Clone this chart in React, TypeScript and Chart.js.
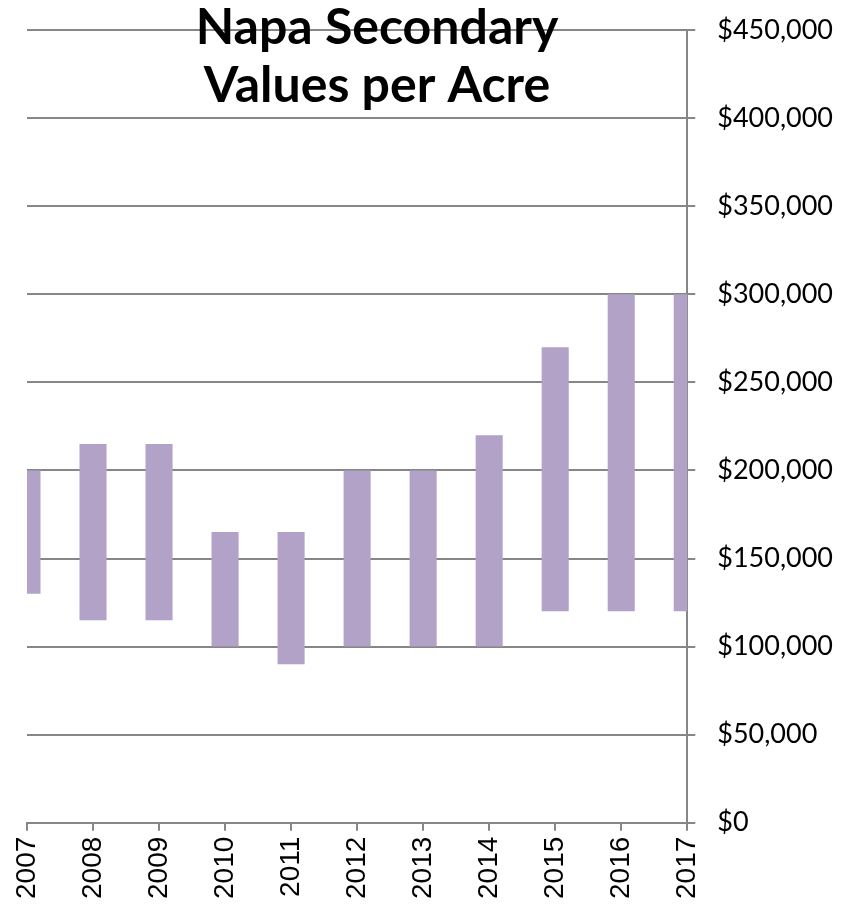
import React, { useEffect, useRef } from "react";
import { Chart, registerables } from "chart.js";

Chart.register(...registerables);

const years = ["2007", "2008", "2009", "2010", "2011", "2012", "2013", "2014", "2015", "2016", "2017"];
const lowValues = [130000, 115000, 115000, 100000, 90000, 100000, 100000, 100000, 120000, 120000, 120000];
const highValues = [200000, 215000, 215000, 165000, 165000, 200000, 200000, 220000, 270000, 300000, 300000];
const titleLines = ["Napa Secondary", "Values per Acre"];

const GRID = "#868686";

const titlePlugin = {
  id: "overlayTitle",
  afterDraw(chart: any) {
    const ctx = chart.ctx;
    const cx = 377;
    ctx.save();
    ctx.font = "bold 50px Lato";
    ctx.textAlign = "center";
    ctx.textBaseline = "alphabetic";
    ctx.fillStyle = "#000000";
    // canvas is shifted 8px above the page top
    ctx.fillText(titleLines[0], cx, 44 + 8);
    ctx.fillText(titleLines[1], cx, 102 + 8);
    ctx.restore();
  },
};

export default function App() {
  const ref = useRef<HTMLCanvasElement | null>(null);
  useEffect(() => {
    if (!ref.current) return;
    const chart = new Chart(ref.current, {
      type: "bar",
      data: {
        labels: years,
        datasets: [
          {
            data: years.map((_, i) => [lowValues[i], highValues[i]]) as any,
            backgroundColor: "#B3A2C7",
            borderWidth: 0,
            barPercentage: 0.41,
            categoryPercentage: 1,
            clip: 0,
          } as any,
        ],
      },
      options: {
        animation: false,
        responsive: true,
        maintainAspectRatio: false,
        layout: { padding: { top: 0, right: 0, left: 27, bottom: 5 } },
        plugins: {
          legend: { display: false },
          tooltip: { enabled: false },
          title: { display: false },
        },
        scales: {
          x: {
            type: "category",
            offset: false,
            grid: {
              display: true,
              offset: false,
              drawOnChartArea: false,
              drawTicks: true,
              tickLength: 8,
              color: GRID,
              lineWidth: 2,
            },
            border: { display: true, color: GRID, width: 2 },
            ticks: {
              maxRotation: 90,
              minRotation: 90,
              autoSkip: false,
              color: "#000000",
              padding: 6,
              font: { family: "'Liberation Sans', Arial, sans-serif", size: 28 },
            },
          },
          y: {
            position: "right",
            min: 0,
            max: 450000,
            grid: {
              color: GRID,
              lineWidth: 2,
              tickLength: 8,
              drawTicks: true,
            },
            border: { display: true, color: GRID, width: 2 },
            ticks: {
              stepSize: 50000,
              color: "#000000",
              padding: 22,
              font: { family: "Lato", size: 27 },
              callback: (v: any) => "$" + Number(v).toLocaleString("en-US"),
            },
          },
        },
      },
      plugins: [titlePlugin],
    });
    return () => chart.destroy();
  }, []);
  return (
    <div style={{ width: 855, height: 918, position: "relative", margin: "-16px 0 0 -8px" }}>
      <canvas ref={ref} />
    </div>
  );
}
